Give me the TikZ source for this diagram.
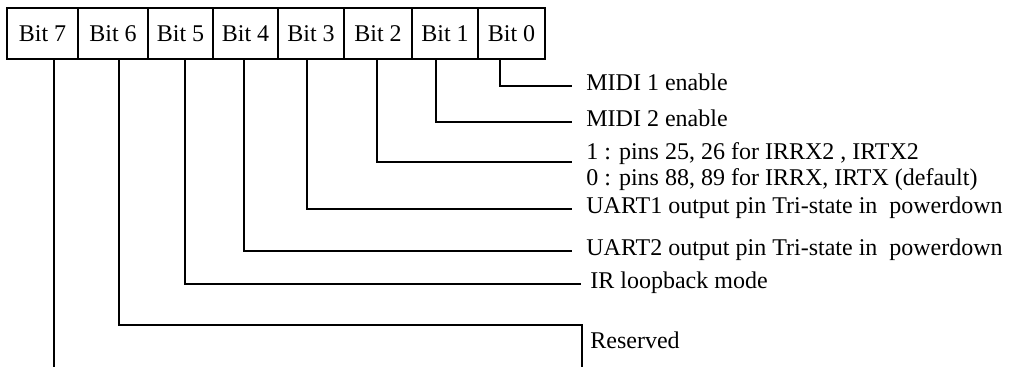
\documentclass[tikz,border=0pt]{standalone}
\usepackage{fontspec}
\setmainfont{Liberation Serif}
\usepackage{tikz}
\usetikzlibrary{calc}
\usetikzlibrary{positioning}
\newcommand{\bitstem}[2]{([xshift=#2]#1.south west)}

\begin{document}
\begin{tikzpicture}[font=\fontsize{12}{13}\selectfont]
\tikzstyle{cell}=[draw, line width=1pt, outer sep=0pt, inner sep=0pt, minimum height=25.5pt]
\tikzstyle{desc}=[inner xsep=7.25pt, inner ysep=0pt, anchor=west, text height=0.7em, text depth=0.22em]
\tikzstyle{desctwo}=[inner xsep=7.25pt, inner ysep=0pt, anchor=north west, align=left]
\tikzstyle{wire}=[line width=0.8pt]

\useasboundingbox (0,0) rectangle (17.749,-6.449);

% register bits
\node[cell, minimum width=35.5pt, anchor=west] (b7) at (0.123,-0.589) {Bit 7};
\node[cell, minimum width=35pt, right=0pt of b7] (b6) {Bit 6};
\node[cell, minimum width=32.5pt, right=0pt of b6] (b5) {Bit 5};
\node[cell, minimum width=32.5pt, right=0pt of b5] (b4) {Bit 4};
\node[cell, minimum width=33pt, right=0pt of b4] (b3) {Bit 3};
\node[cell, minimum width=34pt, right=0pt of b3] (b2) {Bit 2};
\node[cell, minimum width=33pt, right=0pt of b2] (b1) {Bit 1};
\node[cell, minimum width=33.5pt, right=0pt of b1] (b0) {Bit 0};

% descriptions
\node[desc] (d0) at (10.043,-1.511) {MIDI 1 enable};
\node[desc] (d1) at (10.043,-2.144) {MIDI 2 enable};
\node[desctwo] (d2) at (10.043,-2.506) {1 : pins 25, 26 for IRRX2 , IRTX2\\0 : pins 88, 89 for IRRX, IRTX (default)};
\node[desc] (d3) at (10.043,-3.673) {UART1 output pin Tri-state in\ \ powerdown};
\node[desc] (d4) at (10.043,-4.411) {UART2 output pin Tri-state in\ \ powerdown};
\node[desc, inner xsep=4.5pt] (d5) at (10.210,-4.991) {IR loopback mode};
\coordinate (r0) at (10.227,-5.711);
\coordinate (r1) at (10.227,-6.449);
\node[desc, inner xsep=4pt] (d6) at (10.227,-6.045) {Reserved};

% connectors
\draw[wire] \bitstem{b0}{11pt} |- (d0.west);
\draw[wire] \bitstem{b1}{12pt} |- (d1.west);
\draw[wire] \bitstem{b2}{16.5pt} |- ([yshift=-9.7pt]d2.north west);
\draw[wire] \bitstem{b3}{14.5pt} |- (d3.west);
\draw[wire] \bitstem{b4}{15.5pt} |- (d4.west);
\draw[wire] \bitstem{b5}{18.5pt} |- (d5.west);
\draw[wire] \bitstem{b6}{20.5pt} |- (r0) -- (r1);
\draw[wire] \bitstem{b7}{23.5pt} coordinate (s7) -- (s7 |- r1);
\end{tikzpicture}
\end{document}
